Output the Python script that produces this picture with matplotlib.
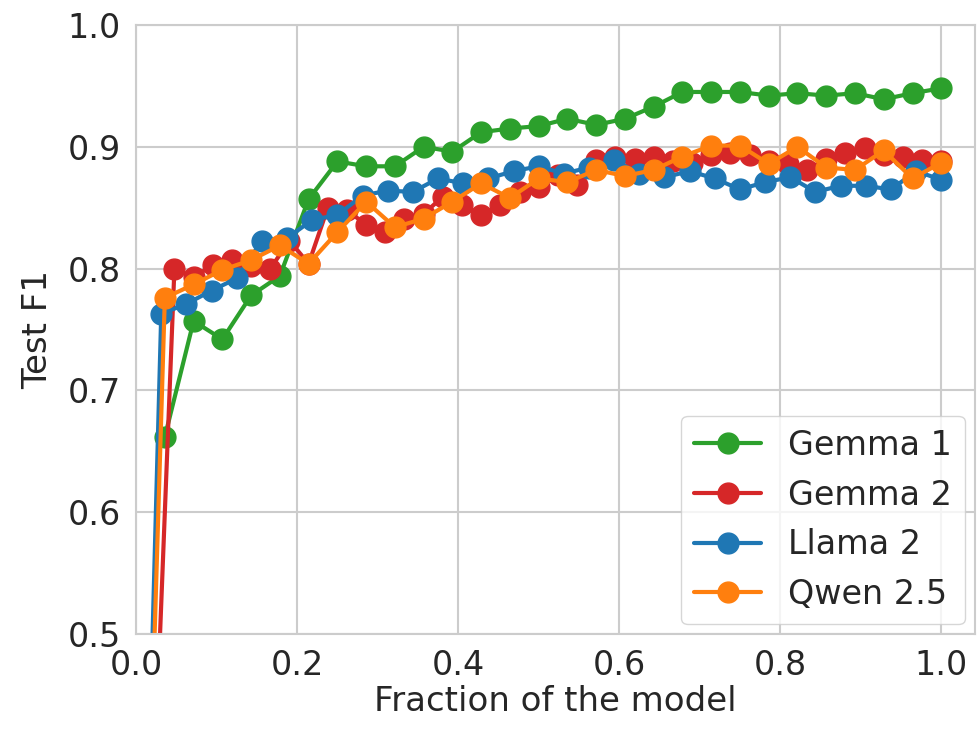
import numpy as np
import matplotlib
matplotlib.use("Agg")
import matplotlib.pyplot as plt
import seaborn as sns

sns.set_theme(style="whitegrid")
plt.rcParams['font.family'] = ['DejaVu Sans']

# Layer indices (k) and total layers per model; x = k / n_layers
gemma1_layers = 28
gemma1_k = list(range(1, 29))
gemma1_f1 = [0.662, 0.757, 0.742, 0.778, 0.794, 0.857, 0.888, 0.884, 0.884, 0.900,
             0.896, 0.912, 0.915, 0.917, 0.923, 0.918, 0.923, 0.933, 0.945, 0.945,
             0.945, 0.942, 0.944, 0.942, 0.944, 0.939, 0.944, 0.948]

gemma2_layers = 42
gemma2_k = list(range(1, 43))
gemma2_f1 = [0.400, 0.800, 0.793, 0.803, 0.807, 0.802, 0.800, 0.823, 0.804, 0.850,
             0.848, 0.836, 0.830, 0.841, 0.845, 0.859, 0.852, 0.844, 0.852, 0.863,
             0.867, 0.877, 0.869, 0.889, 0.892, 0.890, 0.892, 0.888, 0.887, 0.893,
             0.895, 0.893, 0.888, 0.886, 0.881, 0.890, 0.895, 0.899, 0.893, 0.892,
             0.889, 0.888]

llama2_layers = 32
llama2_k = list(range(0, 33))
llama2_f1 = [0.000, 0.763, 0.771, 0.782, 0.792, 0.823, 0.825, 0.840, 0.844, 0.860,
             0.864, 0.863, 0.874, 0.870, 0.874, 0.880, 0.884, 0.878, 0.883, 0.889,
             0.878, 0.875, 0.880, 0.874, 0.865, 0.871, 0.875, 0.863, 0.868, 0.868,
             0.865, 0.880, 0.873]

qwen25_layers = 28
qwen25_k = list(range(0, 29))
qwen25_f1 = [0.000, 0.776, 0.787, 0.799, 0.807, 0.819, 0.804, 0.830, 0.855, 0.834,
             0.841, 0.855, 0.870, 0.858, 0.874, 0.871, 0.881, 0.876, 0.881, 0.892,
             0.901, 0.901, 0.886, 0.900, 0.883, 0.881, 0.897, 0.874, 0.887]

series = [
    ("Gemma 1", gemma1_k, gemma1_layers, gemma1_f1, "#2ca02c"),
    ("Gemma 2", gemma2_k, gemma2_layers, gemma2_f1, "#d62728"),
    ("Llama 2", llama2_k, llama2_layers, llama2_f1, "#1f77b4"),
    ("Qwen 2.5", qwen25_k, qwen25_layers, qwen25_f1, "#ff7f0e"),
]

fig = plt.figure(figsize=(9.79, 7.34), dpi=100)
ax = fig.add_axes([0.139, 0.136, 0.857, 0.830])

for name, ks, n, f1, c in series:
    x = np.array(ks) / n
    ax.plot(x, f1, marker="o", color=c, lw=3, ms=15, label=name)

ax.set_xlim(0, 1.042)
ax.set_ylim(0.5, 1.0)
ax.set_xticks([0.0, 0.2, 0.4, 0.6, 0.8, 1.0])
ax.set_yticks([0.5, 0.6, 0.7, 0.8, 0.9, 1.0])
ax.tick_params(labelsize=24, colors="#262626", pad=5)
ax.set_xlabel("Fraction of the model", fontsize=24.5, color="#262626", labelpad=2)
ax.set_ylabel("Test F1", fontsize=24.5, color="#262626", labelpad=10)
for s in ax.spines.values():
    s.set_color("#cccccc")
    s.set_linewidth(1.5)
ax.grid(color="#cccccc", lw=1.5)

leg = ax.legend(loc="lower right", fontsize=24, frameon=True, borderaxespad=0.3)
leg.get_frame().set_edgecolor("#cccccc")

fig.savefig("out.png", dpi=100)
